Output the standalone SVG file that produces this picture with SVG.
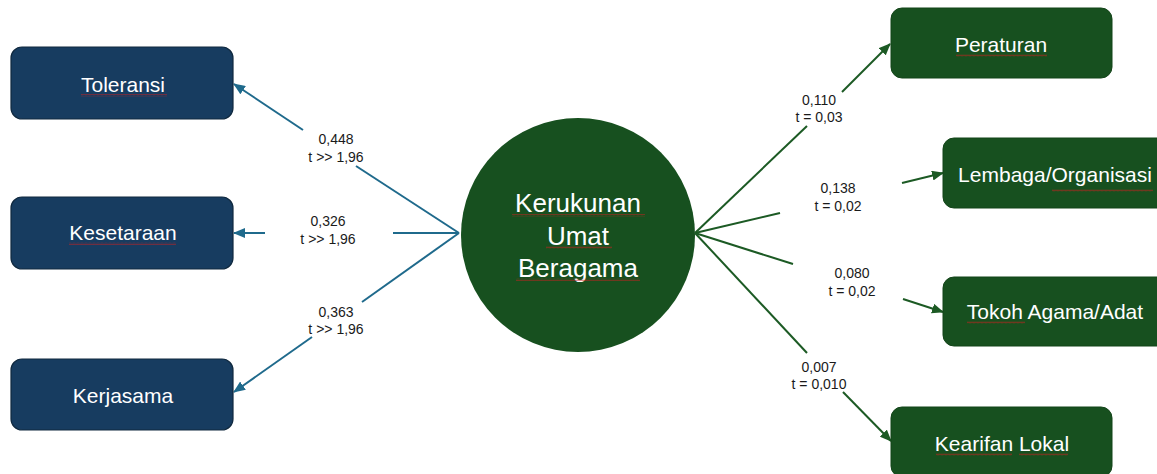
<svg xmlns="http://www.w3.org/2000/svg" width="1157" height="474" viewBox="0 0 1157 474">
<defs>
<style>
.nav{fill:#173c60;stroke:#10293f;stroke-width:1.2}
.grn{fill:#17501f;stroke:#134419;stroke-width:1}
.nt{font-family:"Liberation Sans",Arial,sans-serif;font-size:21px;fill:#ffffff;text-anchor:middle}
.ct{font-family:"Liberation Sans",Arial,sans-serif;font-size:26px;fill:#ffffff;text-anchor:middle}
.lb{font-family:"Liberation Sans",Arial,sans-serif;font-size:14px;fill:#1a1a1a;text-anchor:middle}
.cb{stroke:#1f6a8c;stroke-width:2;fill:none}
.cg{stroke:#1c5a24;stroke-width:2;fill:none}
.sq{fill:url(#wave)}
</style>
<pattern id="wave" patternUnits="userSpaceOnUse" width="4" height="3">
<path d="M0,2.3 L1,0.7 L2,2.3 L3,0.7 L4,2.3" stroke="#c62020" stroke-width="0.6" fill="none" opacity="0.85"/>
</pattern>
<marker id="ab" markerUnits="userSpaceOnUse" markerWidth="12" markerHeight="10" refX="11" refY="5" orient="auto">
<path d="M0,0 L12,5 L0,10 Z" fill="#1f6a8c"/>
</marker>
<marker id="ag" markerUnits="userSpaceOnUse" markerWidth="12" markerHeight="10" refX="11" refY="5" orient="auto">
<path d="M0,0 L12,5 L0,10 Z" fill="#1c5a24"/>
</marker>
</defs>
<rect width="1157" height="474" fill="#ffffff"/>

<g id="connectors">
<path class="cb" d="M459,233 L356,166"/>
<path class="cb" d="M303,130 L234,84" marker-end="url(#ab)"/>
<path class="cb" d="M459,233 L393,233"/>
<path class="cb" d="M265,233 L234,233" marker-end="url(#ab)"/>
<path class="cb" d="M459,233 L362,302"/>
<path class="cb" d="M312,337 L234,392" marker-end="url(#ab)"/>
<path class="cg" d="M695,233 L807,126"/>
<path class="cg" d="M842,92 L890,44" marker-end="url(#ag)"/>
<path class="cg" d="M695,233 L780,213"/>
<path class="cg" d="M902,183 L943,173" marker-end="url(#ag)"/>
<path class="cg" d="M695,233 L793,264"/>
<path class="cg" d="M903,299 L943,312" marker-end="url(#ag)"/>
<path class="cg" d="M695,233 L807,353"/>
<path class="cg" d="M843,392 L891,441" marker-end="url(#ag)"/>
<text class="lb" x="336" y="144">0,448</text>
<text class="lb" x="336" y="162">t &gt;&gt; 1,96</text>
<text class="lb" x="328" y="226">0,326</text>
<text class="lb" x="328" y="244">t &gt;&gt; 1,96</text>
<text class="lb" x="336" y="317">0,363</text>
<text class="lb" x="336" y="334">t &gt;&gt; 1,96</text>
<text class="lb" x="819" y="105">0,110</text>
<text class="lb" x="819" y="122">t = 0,03</text>
<text class="lb" x="838" y="193">0,138</text>
<text class="lb" x="838" y="211">t = 0,02</text>
<text class="lb" x="852" y="278">0,080</text>
<text class="lb" x="852" y="296">t = 0,02</text>
<text class="lb" x="819" y="372">0,007</text>
<text class="lb" x="819" y="389">t = 0,010</text>
</g>

<g id="toleransi">
<rect class="nav" x="11" y="47" width="222" height="72" rx="11"/>
<text class="nt" x="123" y="92">Toleransi</text>
<rect class="sq" x="81" y="94" width="86" height="3"/>
</g>
<g id="kesetaraan">
<rect class="nav" x="11" y="197" width="222" height="72" rx="11"/>
<text class="nt" x="123" y="240">Kesetaraan</text>
<rect class="sq" x="69" y="242" width="107" height="3"/>
</g>
<g id="kerjasama">
<rect class="nav" x="11" y="359" width="222" height="71" rx="11"/>
<text class="nt" x="123" y="403">Kerjasama</text>
</g>

<g id="kerukunan">
<circle cx="578" cy="235" r="117" fill="#17501f"/>
<text class="ct" x="578" y="212">Kerukunan</text>
<text class="ct" x="578" y="245">Umat</text>
<text class="ct" x="578" y="277">Beragama</text>
<rect class="sq" x="512" y="214" width="133" height="3"/>
<rect class="sq" x="546" y="246" width="66" height="3"/>
<rect class="sq" x="516" y="278" width="124" height="3"/>
</g>

<g id="peraturan">
<rect class="grn" x="891" y="8" width="221" height="70" rx="11"/>
<text class="nt" x="1001" y="52">Peraturan</text>
<rect class="sq" x="956" y="54" width="91" height="3"/>
</g>
<g id="lembaga">
<rect class="grn" x="943" y="138" width="230" height="70" rx="11"/>
<text class="nt" x="1055" y="182">Lembaga/Organisasi</text>
<rect class="sq" x="1052" y="189" width="101" height="3"/>
</g>
<g id="tokoh">
<rect class="grn" x="943" y="277" width="230" height="69" rx="11"/>
<text class="nt" x="1055" y="319">Tokoh Agama/Adat</text>
<rect class="sq" x="967" y="321" width="58" height="3"/>
</g>
<g id="kearifan">
<rect class="grn" x="891" y="407" width="221" height="70" rx="11"/>
<text class="nt" x="1002" y="451">Kearifan Lokal</text>
<rect class="sq" x="936" y="453" width="76" height="3"/>
<rect class="sq" x="1019" y="453" width="49" height="3"/>
</g>
</svg>
